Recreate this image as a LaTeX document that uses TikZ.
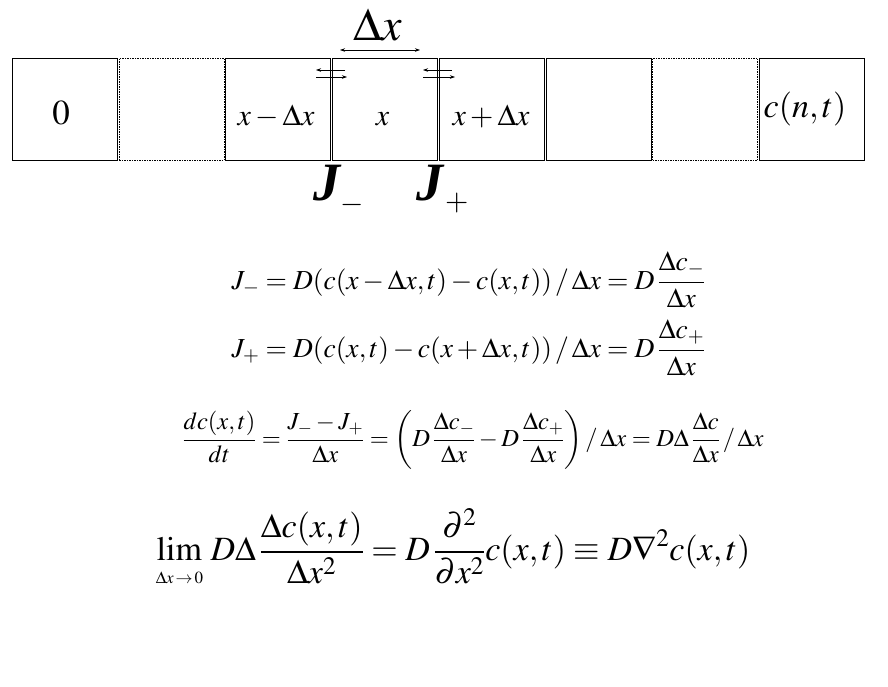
\documentclass[tikz,border=0pt]{standalone}
\usepackage{amsmath}
\usepackage{mathptmx}
\usepackage{fontspec}
\setmainfont{Liberation Serif}
\usepackage{tikz}
\usetikzlibrary{arrows.meta}

\begin{document}
\begin{tikzpicture}[x=1pt,y=-1pt,>={Stealth[length=5pt,width=3.5pt]},
  cell/.style={draw,line width=1pt,minimum width=105pt,minimum height=102pt,inner sep=0pt},
  dotcell/.style={cell,dash pattern=on 1.5pt off 1pt},
  lab/.style={anchor=base,inner sep=0pt,font=\fontsize{30}{36}\selectfont},
  flux/.style={->,line width=0.6pt},
  bigJ/.style={anchor=base west,inner sep=0pt,font=\fontsize{54}{60}\selectfont\bfseries\itshape}]
\useasboundingbox (0,0) rectangle (888,686);

\node[cell] (B1) at (64.8,109) {};
\node[dotcell] (B2) at (171.9,109) {};
\node[cell] (B3) at (277.8,109) {};
\node[cell] (B4) at (384.8,109) {};
\node[cell] (B5) at (491.8,109) {};
\node[cell] (B6) at (599,109) {};
\node[dotcell] (B7) at (705.2,109) {};
\node[cell] (B8) at (811.7,109) {};

\node[lab,font=\fontsize{35}{40}\selectfont] (L1) at (61,124) {$0$};
\node[lab] (L3) at (276,125) {$x-\Delta x$};
\node[lab] (L4) at (382.5,125) {$x$};
\node[lab] (L5) at (491,125) {$x+\Delta x$};
\node[lab,font=\fontsize{34}{40}\selectfont] (L8) at (805,117) {$c(n,t)$};

\node[lab,font=\fontsize{46}{52}\selectfont] (dx) at (377.5,40) {$\Delta x$};
\coordinate (dl) at (340,50);
\coordinate (dr) at (420,50);
\draw[<->,line width=0.6pt] (dl) -- (dr);

\coordinate (m1) at (345,70);
\coordinate (m2) at (316,70);
\coordinate (m3) at (316,77);
\coordinate (m4) at (347,77);
\coordinate (p1) at (452,70);
\coordinate (p2) at (423,70);
\coordinate (p3) at (423,77);
\coordinate (p4) at (455,77);
\draw[flux] (m1) -- (m2);
\draw[flux] (m3) -- (m4);
\draw[flux] (p1) -- (p2);
\draw[flux] (p3) -- (p4);

\node[bigJ] (Jm) at (313,200) {J\raisebox{-12.5pt}{\fontsize{30}{30}\selectfont\mdseries$-$}};
\node[bigJ] (Jp) at (416,200) {J\kern2pt\raisebox{-10.5pt}{\fontsize{30}{30}\selectfont\mdseries$+$}};

% balance equations
\node[font=\fontsize{27.5}{32}\selectfont] (E1) at (468.5,280)
  {$J_- = D(c(x-\Delta x,t)-c(x,t))\,/\,\Delta x = D\,\dfrac{\Delta c_-}{\Delta x}$};
\node[font=\fontsize{27.5}{32}\selectfont] (E2) at (468.5,348)
  {$J_+ = D(c(x,t)-c(x+\Delta x,t))\,/\,\Delta x = D\,\dfrac{\Delta c_+}{\Delta x}$};
\node[font=\fontsize{24.5}{30}\selectfont] (E3) at (473,440)
  {$\dfrac{dc(x,t)}{dt} = \dfrac{J_- - J_+}{\Delta x} = \left(D\,\dfrac{\Delta c_-}{\Delta x} - D\,\dfrac{\Delta c_+}{\Delta x}\right)/\,\Delta x = D\Delta\,\dfrac{\Delta c}{\Delta x}\,/\,\Delta x$};
\node[font=\fontsize{34}{40}\selectfont] (E4) at (453,548)
  {$\displaystyle\lim\limits_{\raisebox{-3pt}{\fontsize{17}{18}\selectfont$\Delta x\!\to\! 0$}}\, D\Delta\,\frac{\Delta c(x,t)}{\Delta x^2} = D\,\frac{\partial^2}{\partial x^2}c(x,t) \equiv D\nabla^2 c(x,t)$};
\end{tikzpicture}
\end{document}
